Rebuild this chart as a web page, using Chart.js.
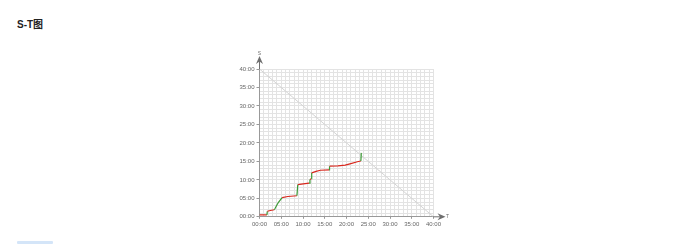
<!DOCTYPE html>
<html>
<head>
<meta charset="utf-8">
<script src="https://cdn.jsdelivr.net/npm/chart.js@4"></script>
<style>
    html, body { margin: 0; padding: 0; background: #fff; }
    body { width: 692px; height: 244px; position: relative; overflow: hidden; }
    .title {
        position: absolute; left: 17px; top: 16px;
        font: bold 10px "Liberation Sans", "Noto Sans CJK SC", sans-serif;
        color: #222;
    }
    .chart-box { position: absolute; left: 220px; top: 50px; width: 240px; height: 180px; }
    .btn-edge {
        position: absolute; left: 17px; top: 241px; width: 36px; height: 3px;
        background: #d4e5f8; border-radius: 1px;
    }
</style>
</head>
<body>
<div class="title">S-T图</div>
<div class="chart-box"><canvas id="stChart" width="240" height="180"></canvas></div>
<div class="btn-edge"></div>
<script>
// T axis (minutes) and S axis (minutes) of the behaviour walk
const tValues = [0, 1.7, 1.8, 2.5, 3.4, 3.6, 4.0, 4.4, 4.8, 5.2, 6.5, 8.6, 8.8, 10.5, 11.4, 11.6, 11.9, 12.0, 13.0, 14.0, 16.0, 16.1, 18.0, 19.7, 21.0, 22.5, 23.3, 23.4]
const sValues = [0.5, 0.5, 1.5, 1.7, 1.9, 2.3, 3.2, 4.0, 4.6, 5.2, 5.5, 5.7, 8.7, 9.0, 9.1, 10.1, 10.3, 11.9, 12.3, 12.6, 12.7, 13.7, 13.8, 14.0, 14.4, 14.9, 15.1, 17.3]

// reference diagonal (total lesson time)
const diagT = [0, 40]
const diagS = [40, 0]

const axisMax = 40
const labelStep = 5

const tColor = '#d8281e'
const sColor = '#3b9a35'

function formatTick(value) {
    if (value % labelStep !== 0) return ''
    return String(value).padStart(2, '0') + ':00'
}

function isMajor(ctx) {
    return ctx.tick && ctx.tick.value % labelStep === 0
}

// arrows at the end of both axes
const axisArrows = {
    id: 'axisArrows',
    afterDraw(chart) {
        const { ctx, chartArea } = chart
        const l = chartArea.left, b = chartArea.bottom, t = chartArea.top, r = chartArea.right
        ctx.save()
        ctx.fillStyle = '#6f6f6f'
        ctx.beginPath()
        ctx.moveTo(l, t - 13)
        ctx.lineTo(l - 3.5, t - 5)
        ctx.lineTo(l, t - 7.5)
        ctx.lineTo(l + 3.5, t - 5)
        ctx.closePath()
        ctx.fill()
        ctx.fillRect(l - 0.5, t - 9, 1, 9)
        ctx.beginPath()
        ctx.moveTo(r + 12, b)
        ctx.lineTo(r + 4, b - 3.5)
        ctx.lineTo(r + 6.5, b)
        ctx.lineTo(r + 4, b + 3.5)
        ctx.closePath()
        ctx.fill()
        ctx.fillRect(r, b - 0.5, 7, 1)
        ctx.font = '5px "Liberation Sans", sans-serif'
        ctx.textAlign = 'center'
        ctx.fillText('S', l, t - 14)
        ctx.textBaseline = 'middle'
        ctx.fillText('T', r + 14, b)
        ctx.restore()
    }
}

const ctx = document.getElementById('stChart').getContext('2d')
new Chart(ctx, {
    type: 'scatter',
    data: {
        datasets: [
            {
                label: 'S-T',
                data: tValues.map((t, i) => ({ x: t, y: sValues[i] })),
                showLine: true,
                borderWidth: 1.2,
                pointRadius: 0,
                borderColor: tColor,
                segment: {
                    borderColor: c => {
                        const dx = c.p1.parsed.x - c.p0.parsed.x
                        const dy = c.p1.parsed.y - c.p0.parsed.y
                        return dy > dx ? sColor : tColor
                    }
                },
            },
            {
                label: 'diag',
                data: diagT.map((t, i) => ({ x: t, y: diagS[i] })),
                showLine: true,
                borderWidth: 1,
                pointRadius: 0,
                borderColor: '#d3d3d3',
            },
        ]
    },
    plugins: [axisArrows],
    options: {
        responsive: false,
        animation: false,
        layout: { padding: { left: 0, top: 19, right: 26.5, bottom: 0 } },
        plugins: {
            legend: { display: false },
            tooltip: { enabled: false },
        },
        scales: {
            x: {
                type: 'linear',
                min: 0,
                max: axisMax,
                afterFit: scale => { scale.height = 13.2 },
                border: { color: '#999', width: 1 },
                grid: {
                    color: '#e3e3e3',
                    lineWidth: 1,
                    tickLength: 2,
                    tickColor: c => isMajor(c) ? '#999' : 'rgba(0,0,0,0)',
                },
                ticks: {
                    stepSize: 1,
                    autoSkip: false,
                    maxRotation: 0,
                    padding: 1.5,
                    color: '#666',
                    font: { size: 6, family: '"Liberation Sans", sans-serif' },
                    callback: formatTick,
                },
            },
            y: {
                type: 'linear',
                min: 0,
                max: axisMax,
                afterFit: scale => { scale.width = 39.5 },
                border: { color: '#999', width: 1 },
                grid: {
                    color: '#e3e3e3',
                    lineWidth: 1,
                    tickLength: 3,
                    tickColor: c => isMajor(c) ? '#999' : 'rgba(0,0,0,0)',
                },
                ticks: {
                    stepSize: 1,
                    autoSkip: false,
                    padding: 2,
                    color: '#666',
                    font: { size: 6, family: '"Liberation Sans", sans-serif' },
                    callback: formatTick,
                },
            },
        },
    },
})
</script>
</body>
</html>
